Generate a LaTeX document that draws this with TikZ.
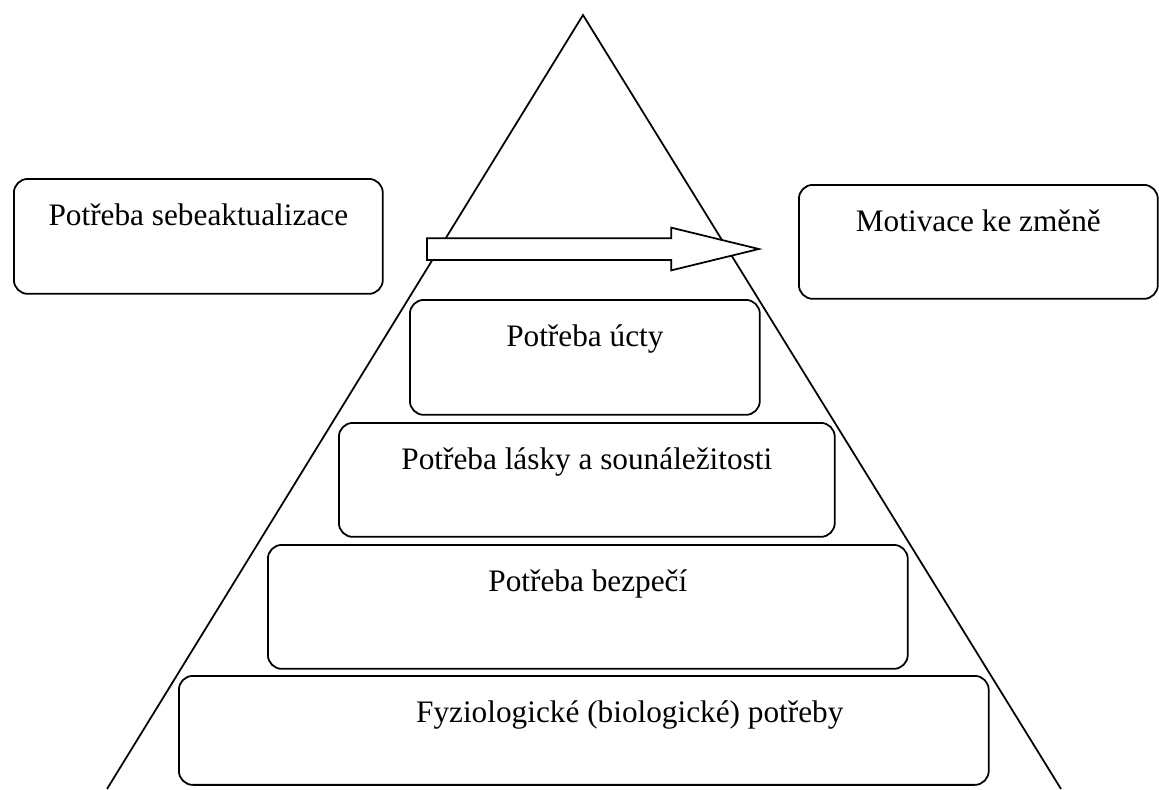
\documentclass[tikz,border=0pt]{standalone}
\usepackage{fontspec}
\setmainfont{Liberation Serif}
\usepackage{tikz}
\usetikzlibrary{shapes.arrows}

\begin{document}
\begin{tikzpicture}[x=0.02cm, y=-0.02cm, line width=1pt,
    need/.style={draw, fill=white, rounded corners=0.28cm, inner sep=0pt,
        anchor=north west, align=center, text height=0.94cm,
        font=\fontsize{17.8}{21}\selectfont}]
    \useasboundingbox (0,0) rectangle (1159,789);

    % Pyramid
    \coordinate (top) at (583,15);
    \coordinate (left) at (107,789);
    \coordinate (right) at (1061,789);
    \draw (left) -- (top) -- (right);

    % Nodes
    \node (self) [need, minimum width=7.38cm, text depth=1.36cm] at (13,178) {Potřeba sebeaktualizace};
    \node (change) [need, minimum width=7.18cm, text depth=1.34cm] at (798,184) {Motivace ke změně};
    \node (esteem) [need, minimum width=7.00cm, text depth=1.36cm] at (409,299) {Potřeba úcty};
    \node (love) [need, minimum width=9.92cm, text depth=1.34cm] at (338,422) {Potřeba lásky a sounáležitosti};
    \node (safety) [need, minimum width=12.80cm, text depth=1.54cm] at (267,544) {Potřeba bezpečí};
    \node (body) [need, minimum width=16.20cm, text depth=1.24cm] at (178,675) {\hspace*{1.84cm}Fyziologické (biologické) potřeby};

    % Arrow
    \node (arrow) [single arrow, draw, fill=white, inner sep=0pt, text height=0.4cm, text depth=0pt,
        minimum height=6.64cm, single arrow head extend=0.21cm, single arrow tip angle=27.4,
        anchor=west] at (426,249) {};
\end{tikzpicture}
\end{document}
